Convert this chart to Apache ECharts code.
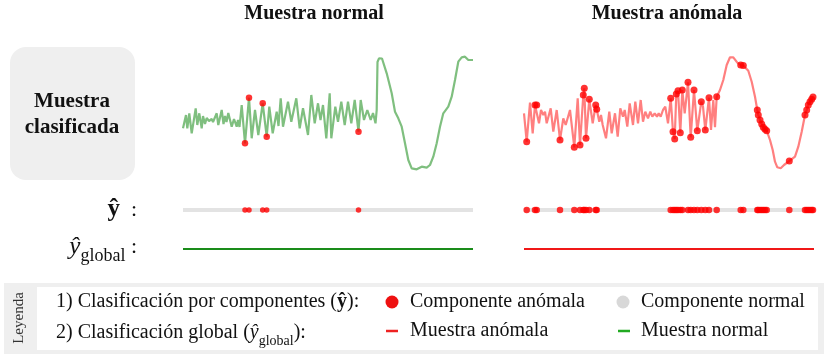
<!DOCTYPE html>
<html>
<head>
<meta charset="utf-8">
<script src="https://cdn.jsdelivr.net/npm/echarts@6/dist/echarts.min.js"></script>
<style>
  html, body { margin: 0; padding: 0; background: #ffffff; }
  #chart { width: 824px; height: 359px; }
</style>
</head>
<body>
<div id="chart"></div>
<script>
// ---- Normal sample: vertex times and amplitudes ----
const normalT = [0,3,4.3,6.3,8.7,12.7,14.3,16.3,18.7,20,
  22,23.7,26,28.7,30,33.7,35.3,38.7,40.5,42,
  43.5,45.3,48.7,51,53.7,55,56.5,58.7,62,66,
  68.7,72,75.3,79.7,83.7,86.3,89.7,93.7,95.5,97.7,
  100,105,108.3,113.3,116.7,120,125,128.3,131.7,135,
  137.5,140,143.3,146.7,148.3,152.3,155,158.3,161.7,165,
  168.3,171.7,175.5,177.7,181,184.3,187.7,190,192.5,193.7,
  194.5,196,199,203.7,208.7,212,215.3,218.7,222,225.3,
  228.7,233.7,238.7,243.7,247,250.3,253.7,257,260.3,265.3,
  268.7,272,275.3,278.7,282,285.3,290];
const normalV = [-13.3,0,-13.3,1.7,-18.3,6.7,-10,1.7,-13.3,-1,
  -9,-3,-6,-4,-7,1.7,-10,5,-9,-1,
  -7,2,-11.7,-4,-11.7,-5,-12,10,-28.3,17.3,
  -23.3,5,-20,11.7,-21.7,8.3,-18.3,3.3,-11,16.7,
  -11.7,13.3,-6.7,16.7,-13.3,6.7,-20,20,-8.3,11.7,
  -5,10,-23.3,21.7,-23.3,8.3,-6.7,13.3,-10,13.3,
  -8.3,15,-16.7,15,-5,5,-5,2,-8.3,5,
  53,56.7,56.5,41.7,21.7,3.3,-3.3,-11.7,-28.3,-45,
  -53.3,-54.3,-51.7,-52.7,-50,-41.7,-28.3,-11.7,1.7,8.3,
  18.3,35,53.3,57.7,58.3,55,55];
// vertices flagged as anomalous components
const normalFlags = [28, 29, 33, 34, 62];

// ---- Anomalous sample ----
const anomT = [0,2.7,6,8.7,11,12.7,15,17,19.3,21,
  22.7,26.7,29.3,32.7,36,39.3,41.7,46,50.3,53.7,
  56,59.3,60.3,62,65.3,68.7,71.7,72.7,75.3,77,
  78.7,82,85.3,87.7,91,93.7,96.3,99,100.7,103.3,
  105.7,109,111.3,114,116.7,119,121.3,124,126.3,128.3,
  130.7,133,134.7,136.7,139,141.3,144,146.7,149,150.7,
  152.3,154,156.3,158.3,160.7,164,166.7,170,173.3,177.3,
  179,181.3,185,187,189.3,191,192.7,196,199.3,202.7,
  206,209.3,213.3,216.7,219.3,224.3,227.7,231,233.3,234.3,
  236,237.7,239.3,241,242.7,246,248.7,251,253.3,256.7,
  260,265.3,271,274.3,277.7,281,282.7,284.3,286,287.7,
  289];
const anomV = [1.7,-26.7,12.3,-18.3,10,10,-8.3,5,0,3.3,
  -8.3,6.7,-16.7,5,-25,-3.3,-10,5,-32.3,16.7,
  -30,20,26.7,-23.3,15.7,-8.3,10,5.7,-6.7,0,
  -10,-23.3,3.3,-18.3,1.7,-21.7,6.7,-1.7,5,-11.7,
  11.7,-10,13.3,-8.3,15,-6.7,3.3,-3.3,3.3,-1.7,
  1.7,-1.7,1.7,-1.7,5,8.3,-8.3,16.7,-16.7,-24,
  21,24.3,-17.7,25,1.7,32.7,-22.3,25,-15.7,13.3,
  8.3,-15,17.3,-15,15,-12.3,18.3,25,35,50,
  57.7,57.7,52.3,50,49.5,44.3,33.3,18.3,5,0,
  -5,-9,-12.3,-14.3,-15.7,-25,-35,-46.7,-52.3,-53.3,
  -50,-46,-41.7,-31.7,-16.7,0,5,10,13.3,15.7,
  18];
const anomFlags = [1,4,5,14,18,20,21,22,23,24,26,27,
  57,58,59,60,61,62,63,65,66,67,68,69,71,72,76,
  83,84,88,89,90,91,92,93,94,101,105,106,107,108,109,110];

// time span of each sample and amplitude range
const tMax = 290;
const vRange = 60;

const pairs = (t, v) => t.map((x, i) => [x, v[i]]);
const flagged = (t, v, idx) => idx.map(i => [t[i], v[i]]);
const onRow = (t, idx) => idx.map(i => [t[i], 0]);

const FONT = '"Liberation Serif", "DejaVu Serif", serif';
const RED = '#ff0000';

function label(x, y, text, opt) {
  opt = opt || {};
  const a = opt.a || 'left';
  const style = Object.assign({
    text: text, fontFamily: FONT, fontSize: 20, fill: '#111',
    align: a, textAlign: a, verticalAlign: 'middle', textVerticalAlign: 'middle'
  }, opt.style || {});
  const el = { type: 'text', x: x, y: y, silent: true, z: 10, style: style };
  if (opt.rotation) el.rotation = opt.rotation;
  return el;
}

const cols = [
  { left: 183, t: normalT, v: normalV, flags: normalFlags, line: 'rgba(0,128,0,0.5)', global: '#1a8c1a', dot: 5.5, sig: 6.5 },
  { left: 524, t: anomT, v: anomV, flags: anomFlags, line: 'rgba(255,0,0,0.5)', global: '#f01818', dot: 6.5, sig: 7 }
];

const grid = [], xAxis = [], yAxis = [], series = [];
cols.forEach((c, k) => {
  // signal, component row, global row
  const rows = [
    { top: 55, height: 120, min: -vRange, max: vRange },
    { top: 200, height: 20, min: -1, max: 1 },
    { top: 239, height: 20, min: -1, max: 1 }
  ];
  rows.forEach((r) => {
    grid.push({ left: c.left, top: r.top, width: tMax, height: r.height });
    const gi = grid.length - 1;
    xAxis.push({ gridIndex: gi, type: 'value', min: 0, max: tMax, show: false });
    yAxis.push({ gridIndex: gi, type: 'value', min: r.min, max: r.max, show: false });
  });
  const g0 = k * 3;
  series.push({
    type: 'line', xAxisIndex: g0, yAxisIndex: g0, data: pairs(c.t, c.v),
    showSymbol: false, silent: true, z: 2,
    lineStyle: { color: c.line, width: 2.2 }
  });
  series.push({
    type: 'scatter', xAxisIndex: g0, yAxisIndex: g0, data: flagged(c.t, c.v, c.flags),
    symbolSize: c.sig, silent: true, z: 3, itemStyle: { color: RED }
  });
  series.push({
    type: 'line', xAxisIndex: g0 + 1, yAxisIndex: g0 + 1, data: [[0, 0], [tMax, 0]],
    showSymbol: false, silent: true, z: 2, lineStyle: { color: '#e3e3e3', width: 4 }
  });
  series.push({
    type: 'scatter', xAxisIndex: g0 + 1, yAxisIndex: g0 + 1, data: onRow(c.t, c.flags),
    symbolSize: c.dot, silent: true, z: 3, itemStyle: { color: RED }
  });
  series.push({
    type: 'line', xAxisIndex: g0 + 2, yAxisIndex: g0 + 2, data: [[0, 0], [tMax, 0]],
    showSymbol: false, silent: true, z: 2, lineStyle: { color: c.global, width: 2 }
  });
});

const graphic = [
  // row header box
  { type: 'rect', silent: true, z: 1, shape: { x: 10, y: 47, width: 125, height: 133, r: 16 }, style: { fill: '#efefef' } },
  label(72, 102, 'Muestra', { a: 'center', style: { fontSize: 21, fontWeight: 'bold' } }),
  label(72, 128, 'clasificada', { a: 'center', style: { fontSize: 21, fontWeight: 'bold' } }),
  // column titles
  label(314, 14, 'Muestra normal', { a: 'center', style: { fontSize: 20, fontWeight: 'bold' } }),
  label(667, 14, 'Muestra anómala', { a: 'center', style: { fontSize: 20, fontWeight: 'bold' } }),
  // row labels
  label(137, 210, '{b|ŷ}{n|  :}', { a: 'right', style: {
    rich: {
      b: { fontFamily: FONT, fontSize: 25, fontWeight: 'bold', fill: '#111', lineHeight: 28 },
      n: { fontFamily: FONT, fontSize: 22, fill: '#111', lineHeight: 28 }
    } } }),
  label(137, 247, '{i|ŷ}{s|global}{n| :}', { a: 'right', style: {
    rich: {
      i: { fontFamily: FONT, fontSize: 25, fontStyle: 'italic', fill: '#111', lineHeight: 36 },
      s: { fontFamily: FONT, fontSize: 18, fill: '#111', lineHeight: 17, verticalAlign: 'bottom' },
      n: { fontFamily: FONT, fontSize: 22, fill: '#111', lineHeight: 36 }
    } } }),
  // legend panel
  { type: 'rect', silent: true, z: 1, shape: { x: 4, y: 283, width: 820, height: 71 }, style: { fill: '#efefef' } },
  { type: 'rect', silent: true, z: 1, shape: { x: 37, y: 287, width: 781, height: 63 }, style: { fill: '#ffffff' } },
  label(19, 318, 'Leyenda', { a: 'center', rotation: Math.PI / 2, style: { fontSize: 15, fill: '#333' } }),
  label(56, 302, '{n|1) Clasificación por componentes (}{b|ŷ}{n|):}', { style: {
    rich: {
      n: { fontFamily: FONT, fontSize: 20, fill: '#111', lineHeight: 26 },
      b: { fontFamily: FONT, fontSize: 20, fontWeight: 'bold', fill: '#111', lineHeight: 26 }
    } } }),
  label(56, 333, '{n|2) Clasificación global (}{i|ŷ}{s|global}{n|):}', { style: {
    rich: {
      n: { fontFamily: FONT, fontSize: 20, fill: '#111', lineHeight: 30 },
      i: { fontFamily: FONT, fontSize: 20, fontStyle: 'italic', fill: '#111', lineHeight: 30 },
      s: { fontFamily: FONT, fontSize: 14, fill: '#111', lineHeight: 14, verticalAlign: 'bottom' }
    } } }),
  { type: 'circle', silent: true, z: 10, shape: { cx: 392, cy: 302, r: 6.5 }, style: { fill: '#ee1111' } },
  label(410, 302, 'Componente anómala'),
  { type: 'circle', silent: true, z: 10, shape: { cx: 623, cy: 302, r: 6.5 }, style: { fill: '#d8d8d8' } },
  label(641, 302, 'Componente normal'),
  { type: 'line', silent: true, z: 10, shape: { x1: 386, y1: 331, x2: 398, y2: 331 }, style: { stroke: '#ee2222', lineWidth: 2.5 } },
  label(410, 331, 'Muestra anómala'),
  { type: 'line', silent: true, z: 10, shape: { x1: 618, y1: 331, x2: 630, y2: 331 }, style: { stroke: '#22aa22', lineWidth: 2.5 } },
  label(641, 331, 'Muestra normal')
];

const chart = echarts.init(document.getElementById('chart'), null, { renderer: 'canvas' });
chart.setOption({
  animation: false,
  backgroundColor: '#ffffff',
  grid: grid,
  xAxis: xAxis,
  yAxis: yAxis,
  series: series,
  graphic: graphic
});
</script>
</body>
</html>
